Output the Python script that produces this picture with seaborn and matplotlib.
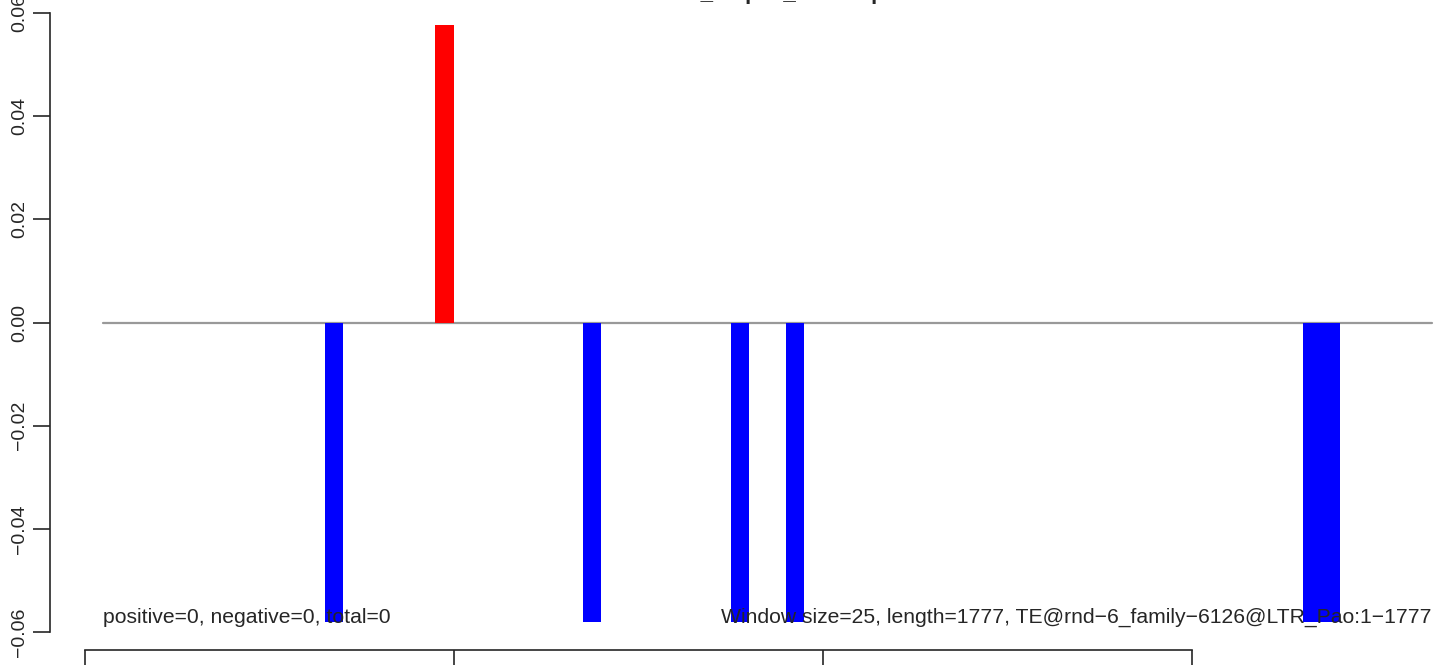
import matplotlib
matplotlib.use("Agg")
import matplotlib.pyplot as plt
import pandas as pd
import seaborn as sns

# window start positions (bp) that carry a signal, and the signal value
win_start = [300, 450, 650, 850, 925, 1625, 1650]
win_value = [-0.058, 0.0577, -0.058, -0.058, -0.058, -0.058, -0.058]
win_size = 25
line_range = [0, 1800]

y_ticks = [-0.06, -0.04, -0.02, 0.00, 0.02, 0.04, 0.06]
x_ticks = [-25, 475, 975, 1475]

title = "sRNA_map25_Scatterplot"
left_note = "positive=0, negative=0, total=0"
right_note = "Window size=25, length=1777, TE@rnd\u22126_family\u22126126@LTR_Pao:1\u22121777"

df = pd.DataFrame({
  "center": [s + win_size / 2 for s in win_start],
  "value": win_value,
})
df["strand"] = ["plus" if v > 0 else "minus" for v in df["value"]]

sns.set_style("ticks")
plt.rcParams['font.family'] = ['Liberation Sans', 'DejaVu Sans']

fig = plt.figure(figsize=(14.44, 6.65), dpi=100)
ax = fig.add_axes([50 / 1444, 15 / 665, 1435 / 1444, 655 / 665])

# zero line across the whole element
ax.plot(line_range, [0, 0], color='#999999', linewidth=1.6, zorder=1)

sns.barplot(data=df, x="center", y="value", hue="strand", native_scale=True,
            palette={"plus": "#ff0000", "minus": "#0000ff"}, width=1.0,
            saturation=1, linewidth=0, errorbar=None, dodge=False,
            legend=False, ax=ax, zorder=2)

ax.set_xlim(-72, 1872)
ax.set_ylim(-0.0635, 0.0635)

ax.set_yticks(y_ticks)
ax.yaxis.set_major_formatter(plt.FuncFormatter(lambda v, p: f"{v:.2f}".replace("-", "\u2212")))
ax.set_xticks(x_ticks)
ax.set_xticklabels([""] * len(x_ticks))
ax.tick_params(axis='y', labelsize=14, length=12, width=1.2, pad=4, labelrotation=90)
ax.tick_params(axis='x', length=12, width=1.2)
for lab in ax.get_yticklabels():
  lab.set_va('center')

ax.spines['top'].set_visible(False)
ax.spines['right'].set_visible(False)
ax.spines['left'].set_bounds(y_ticks[0], y_ticks[-1])
ax.spines['bottom'].set_bounds(x_ticks[0], x_ticks[-1])
ax.spines['left'].set_linewidth(1.2)
ax.spines['bottom'].set_linewidth(1.2)
ax.set_xlabel("")
ax.set_ylabel("")

ax.text(line_range[0], -0.0582, left_note, ha='left', va='baseline', fontsize=15.2, zorder=3)
ax.text(line_range[1], -0.0582, right_note, ha='right', va='baseline', fontsize=15.2, zorder=3)

# title sits mostly above the canvas, as in the reference
fig.text(776 / 1444, 1 + 1 / 665, title, ha='center', va='baseline', fontsize=16, fontweight='bold')

fig.savefig("out.png", dpi=100)
